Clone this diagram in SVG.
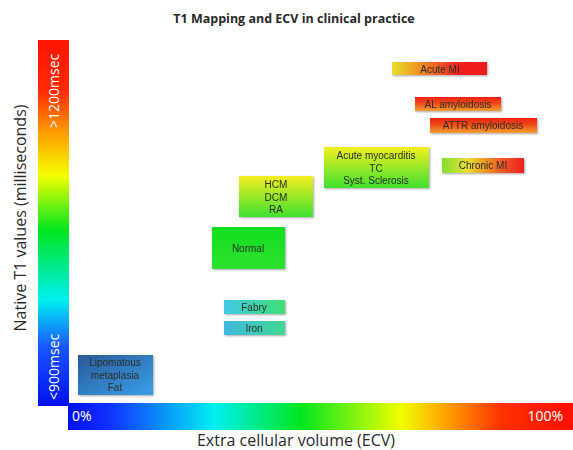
<svg xmlns="http://www.w3.org/2000/svg" width="573" height="450" viewBox="0 0 573 450">
<defs>
<linearGradient id="vbar" x1="0" y1="0" x2="0" y2="1">
<stop offset="0" stop-color="#ff1400"/>
<stop offset="0.14" stop-color="#ff2a00"/>
<stop offset="0.25" stop-color="#ff9a00"/>
<stop offset="0.37" stop-color="#f6ff00"/>
<stop offset="0.52" stop-color="#00e61e"/>
<stop offset="0.71" stop-color="#00f0f0"/>
<stop offset="0.84" stop-color="#1a55ff"/>
<stop offset="1" stop-color="#0010ee"/>
</linearGradient>
<linearGradient id="hbar" x1="0" y1="0" x2="1" y2="0">
<stop offset="0" stop-color="#0010ee"/>
<stop offset="0.08" stop-color="#1030ff"/>
<stop offset="0.29" stop-color="#00f0f0"/>
<stop offset="0.46" stop-color="#00e61e"/>
<stop offset="0.66" stop-color="#f0ff00"/>
<stop offset="0.75" stop-color="#ffa000"/>
<stop offset="0.86" stop-color="#ff3000"/>
<stop offset="1" stop-color="#ff1000"/>
</linearGradient>
<linearGradient id="gYR" x1="0" y1="0" x2="1" y2="0">
<stop offset="0" stop-color="#e8e030"/>
<stop offset="0.35" stop-color="#f08020"/>
<stop offset="0.7" stop-color="#f02020"/>
<stop offset="1" stop-color="#ee1a1a"/>
</linearGradient>
<linearGradient id="gAmy" x1="0" y1="0" x2="0" y2="1">
<stop offset="0" stop-color="#f02010"/>
<stop offset="0.45" stop-color="#f04a18"/>
<stop offset="1" stop-color="#f5a030"/>
</linearGradient>
<linearGradient id="gChr" x1="0" y1="0" x2="1" y2="0">
<stop offset="0" stop-color="#80e030"/>
<stop offset="0.3" stop-color="#e8e030"/>
<stop offset="0.7" stop-color="#f06020"/>
<stop offset="1" stop-color="#ee2020"/>
</linearGradient>
<linearGradient id="gYG" x1="0" y1="0" x2="0" y2="1">
<stop offset="0" stop-color="#f4f020"/>
<stop offset="1" stop-color="#40e030"/>
</linearGradient>
<linearGradient id="gGreen" x1="0" y1="0" x2="0" y2="1">
<stop offset="0" stop-color="#10e020"/>
<stop offset="1" stop-color="#30e030"/>
</linearGradient>
<linearGradient id="gCG" x1="0" y1="0" x2="1" y2="0">
<stop offset="0" stop-color="#40c8e8"/>
<stop offset="1" stop-color="#40e070"/>
</linearGradient>
<linearGradient id="gCG2" x1="0" y1="0" x2="1" y2="0">
<stop offset="0" stop-color="#40b8e0"/>
<stop offset="1" stop-color="#40d890"/>
</linearGradient>
<linearGradient id="gBlue" x1="0" y1="0" x2="1" y2="1">
<stop offset="0" stop-color="#2a5a9a"/>
<stop offset="1" stop-color="#3aa0e8"/>
</linearGradient>
<filter id="sh" x="-20%" y="-30%" width="140%" height="160%">
<feGaussianBlur in="SourceAlpha" stdDeviation="1.2"/>
<feOffset dx="0.5" dy="1" result="b"/>
<feComponentTransfer><feFuncA type="linear" slope="0.35"/></feComponentTransfer>
<feMerge><feMergeNode/><feMergeNode in="SourceGraphic"/></feMerge>
</filter>
</defs>
<style>
.t{font-family:"Open Sans","Liberation Sans",Arial,sans-serif;fill:#2a2a2a;}
.bx{font-family:"Liberation Sans",Arial,sans-serif;font-size:10px;fill:#2a2f2a;text-anchor:middle;}
.w{font-family:"Open Sans","Liberation Sans",Arial,sans-serif;fill:#ffffff;font-size:14px;}
</style>
<rect width="573" height="450" fill="#ffffff"/>
<text class="t" x="294" y="23" font-size="12.5" font-weight="bold" text-anchor="middle">T1 Mapping and ECV in clinical practice</text>

<g id="y-axis">
<rect x="38" y="40" width="31" height="366" fill="url(#vbar)"/>
<text class="w" font-size="13.5" transform="translate(59,400) rotate(-90)">&lt;900msec</text>
<text class="w" font-size="13.5" transform="translate(59,128) rotate(-90)">&gt;1200msec</text>
<text class="t" font-size="16" text-anchor="middle" transform="translate(26,218) rotate(-90)">Native T1 values (milliseconds)</text>
</g>
<g id="x-axis">
<rect x="68" y="403" width="505" height="27" fill="url(#hbar)"/>
<text class="w" x="72" y="421">0%</text>
<text class="w" x="563" y="421" text-anchor="end">100%</text>
<text class="t" x="296" y="446" font-size="16" text-anchor="middle">Extra cellular volume (ECV)</text>
</g>

<g id="connectors"></g>

<g id="acute-mi" filter="url(#sh)">
<rect x="392" y="62" width="95" height="13" fill="url(#gYR)"/>
<text class="bx" x="440" y="72.5">Acute MI</text>
</g>
<g id="al-amyloidosis" filter="url(#sh)">
<rect x="415" y="97" width="86" height="14" fill="url(#gAmy)"/>
<text class="bx" x="458" y="107.5">AL amyloidosis</text>
</g>
<g id="attr-amyloidosis" filter="url(#sh)">
<rect x="430" y="118" width="107" height="15" fill="url(#gAmy)"/>
<text class="bx" x="483" y="129">ATTR amyloidosis</text>
</g>
<g id="chronic-mi" filter="url(#sh)">
<rect x="442" y="158" width="82" height="15" fill="url(#gChr)"/>
<text class="bx" x="483" y="169">Chronic MI</text>
</g>
<g id="acute-myocarditis" filter="url(#sh)">
<rect x="324" y="147" width="105" height="41" fill="url(#gYG)"/>
<text class="bx" x="376" y="159">Acute myocarditis</text>
<text class="bx" x="376" y="171.5">TC</text>
<text class="bx" x="376" y="184">Syst. Sclerosis</text>
</g>
<g id="hcm" filter="url(#sh)">
<rect x="239" y="176" width="74" height="41" fill="url(#gYG)"/>
<text class="bx" x="276" y="188">HCM</text>
<text class="bx" x="276" y="200.5">DCM</text>
<text class="bx" x="276" y="213">RA</text>
</g>
<g id="normal" filter="url(#sh)">
<rect x="212" y="227" width="73" height="42" fill="url(#gGreen)"/>
<text class="bx" x="248" y="251.5">Normal</text>
</g>
<g id="fabry" filter="url(#sh)">
<rect x="224" y="300" width="61" height="14" fill="url(#gCG)"/>
<text class="bx" x="254" y="310.5">Fabry</text>
</g>
<g id="iron" filter="url(#sh)">
<rect x="224" y="321" width="61" height="14" fill="url(#gCG2)"/>
<text class="bx" x="254" y="331.5">Iron</text>
</g>
<g id="lipomatous" filter="url(#sh)">
<rect x="78" y="355" width="75" height="40" fill="url(#gBlue)"/>
<text class="bx" x="115" y="366" fill="#1a2a40">Lipomatous</text>
<text class="bx" x="115" y="378.5" fill="#1a2a40">metaplasia</text>
<text class="bx" x="115" y="391" fill="#1a2a40">Fat</text>
</g>
</svg>
